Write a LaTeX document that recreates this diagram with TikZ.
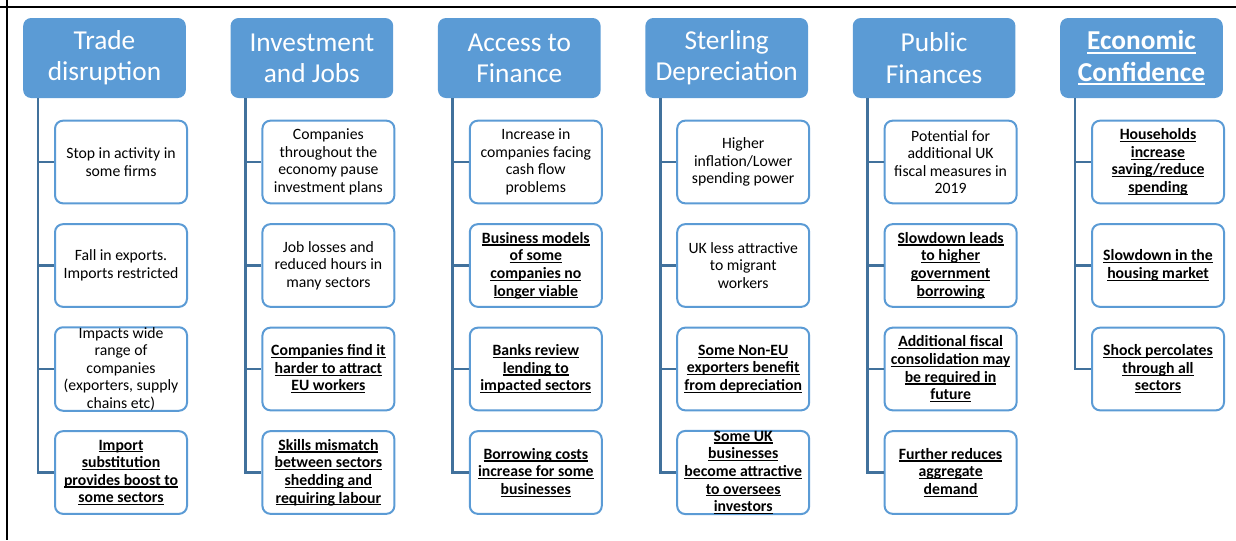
\documentclass[tikz,border=0pt]{standalone}
\usepackage{fontspec}
\setmainfont{Carlito}
\usepackage{tikz}
\usetikzlibrary{positioning}
\definecolor{hdrblue}{HTML}{5B9BD5}
\definecolor{linkblue}{HTML}{41719C}
\newsavebox\ulbox
\newcommand{\ulline}[1]{\sbox\ulbox{#1}\rlap{\rule[-0.15em]{\wd\ulbox}{0.075em}}\usebox\ulbox}

\begin{document}
\begin{tikzpicture}[
        x=0.75pt, y=-0.75pt,
        header/.style={rectangle, rounded corners=6pt, fill=hdrblue, text=white, align=center,
            minimum width=122pt, minimum height=60pt, inner sep=0pt, font=\fontsize{20.5}{23.5}\selectfont},
        note/.style={rectangle, rounded corners=6pt, draw=hdrblue, line width=1.5pt, fill=white, align=center,
            minimum width=99pt, minimum height=62pt, inner xsep=2pt, inner ysep=0pt, font=\fontsize{11.8}{13.2}\selectfont},
        keynote/.style={note, font=\fontsize{11.8}{13.2}\selectfont\bfseries},
        link/.style={draw=linkblue, line width=2pt}
    ]
    \useasboundingbox (0,0) rectangle (1236,540);
    \draw[line width=1.5pt] (0,7) -- (1236,7);
    \draw[line width=1.5pt] (7,0) -- (7,540);

    % column headers
    \foreach \c/\title in {1/{Trade\\disruption}, 2/{Investment\\and Jobs}, 3/{Access to\\Finance},
            4/{Sterling\\Depreciation}, 5/{Public\\Finances},
            6/{\ulline{\bfseries Economic}\\\ulline{\bfseries Confidence}}} {
        \node[header] (h\c) at ({104.5+207.4*(\c-1)}, 58) {\title};
    }

    \foreach \c/\r/\txt in {
            1/1/{Stop in activity in\\some firms},
            1/2/{Fall in exports.\\Imports restricted},
            1/3/{Impacts wide\\range of\\companies\\(exporters, supply\\chains etc)},
            2/1/{Companies\\throughout the\\economy pause\\investment plans},
            2/2/{Job losses and\\reduced hours in\\many sectors},
            3/1/{Increase in\\companies facing\\cash flow\\problems},
            4/1/{Higher\\inflation/Lower\\spending power},
            4/2/{UK less attractive\\to migrant\\workers},
            5/1/{Potential for\\additional UK\\fiscal measures in\\2019}} {
        \node[note] (b\c-\r) at ({121+207.4*(\c-1)}, {162+103.5*(\r-1)}) {\txt};
    }
    \foreach \c/\r/\txt in {
            1/4/{\ulline{Import}\\\ulline{substitution}\\\ulline{provides boost to}\\\ulline{some sectors}},
            2/3/{\ulline{Companies find it}\\\ulline{harder to attract}\\\ulline{EU workers}},
            2/4/{\ulline{Skills mismatch}\\\ulline{between sectors}\\\ulline{shedding and}\\\ulline{requiring labour}},
            3/2/{\ulline{Business models}\\\ulline{of some}\\\ulline{companies no}\\\ulline{longer viable}},
            3/3/{\ulline{Banks review}\\\ulline{lending to}\\\ulline{impacted sectors}},
            3/4/{\ulline{Borrowing costs}\\\ulline{increase for some}\\\ulline{businesses}},
            4/3/{\ulline{Some Non-EU}\\\ulline{exporters benefit}\\\ulline{from depreciation}},
            4/4/{\ulline{Some UK}\\\ulline{businesses}\\\ulline{become attractive}\\\ulline{to oversees}\\\ulline{investors}},
            5/2/{\ulline{Slowdown leads}\\\ulline{to higher}\\\ulline{government}\\\ulline{borrowing}},
            5/3/{\ulline{Additional fiscal}\\\ulline{consolidation may}\\\ulline{be required in}\\\ulline{future}},
            5/4/{\ulline{Further reduces}\\\ulline{aggregate}\\\ulline{demand}},
            6/1/{\ulline{Households}\\\ulline{increase}\\\ulline{saving/reduce}\\\ulline{spending}},
            6/2/{\ulline{Slowdown in the}\\\ulline{housing market}},
            6/3/{\ulline{Shock percolates}\\\ulline{through all}\\\ulline{sectors}}} {
        \node[keynote] (b\c-\r) at ({121+207.4*(\c-1)}, {162+103.5*(\r-1)}) {\txt};
    }

    % tree lines
    \foreach \c/\n in {1/4, 2/4, 3/4, 4/4, 5/4, 6/3} {
        \coordinate (t\c) at ({38+207.4*(\c-1)}, 98);
        \foreach \r in {1,...,\n} {
            \draw[link] (t\c) |- (b\c-\r.west);
        }
    }
\end{tikzpicture}
\end{document}
